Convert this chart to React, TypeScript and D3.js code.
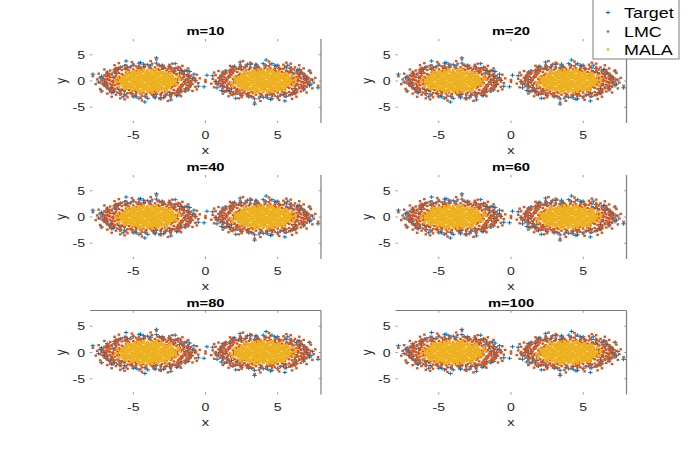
import React from "react";
import * as d3 from "d3";

// ---------- data ----------
const panelTitles = ["m=10", "m=20", "m=40", "m=60", "m=80", "m=100"];
const clusterCenters = [-4, 4];
const clusterSigns = [1, -1];
const xTicks = [-5, 0, 5];
const yTicks = [-5, 0, 5];
const xDomain: [number, number] = [-8, 8];
const yDomain: [number, number] = [-8, 8];
const seriesNames = ["Target", "LMC", "MALA"];
const seriesColors = ["#0072BD", "#D95319", "#EDB120"];

// sample offsets from a cluster centre (x, y)
const targetOffsets: number[][] = [
  [2.6,0.2],[2.8,0.8],[2.5,1.2],[2.5,1.8],[1.7,1.8],[1.6,2.5],[1.1,2.4],[0.8,3.0],[0.2,2.9],[-0.3,3.2],
  [-0.6,2.5],[-1.2,2.7],[-1.5,2.2],[-2.1,2.2],[-2.3,1.7],[-2.8,1.4],[-2.4,0.7],[-2.8,0.3],[-2.4,-0.1],[-2.8,-0.8],
  [-2.5,-1.2],[-2.3,-1.9],[-1.7,-1.8],[-1.6,-2.5],[-1.1,-2.4],[-0.8,-3.0],[-0.2,-2.9],[0.5,-3.0],[0.6,-2.5],[1.2,-2.7],
  [1.5,-2.2],[2.1,-2.2],[2.3,-1.7],[2.6,-1.5],[2.4,-0.7],[2.8,-0.3],
  [3.0,0.0],[3.2,0.6],[2.8,1.1],[2.9,1.8],[2.3,2.0],[2.1,2.6],[1.5,2.8],[1.0,3.0],[0.6,3.4],[0.0,3.1],
  [-0.6,3.4],[-1.0,3.0],[-1.6,2.9],[-2.0,2.5],[-2.3,2.1],[-2.8,1.7],[-2.8,1.1],[-3.3,0.6],[-3.0,0.0],[-3.1,-0.6],
  [-2.9,-1.1],[-2.6,-1.6],[-2.5,-2.2],[-1.9,-2.4],[-1.7,-3.0],[-1.0,-3.0],[-0.6,-3.3],[0.0,-3.3],[0.5,-3.2],[1.1,-3.2],
  [1.5,-2.7],[2.1,-2.7],[2.3,-2.0],[2.8,-1.7],[2.9,-1.1],[3.0,-0.6],
  [-3.1,0.4],[-3.0,-0.5],[-2.2,1.4],[-2.0,-1.6],[-1.4,2.6],[-0.9,-2.8],[-0.3,2.7],[0.4,-2.6],[1.0,2.8],[1.7,-2.4],
  [2.2,1.5],[2.9,-0.9],[3.1,0.5],[2.6,-1.9],[1.9,2.3],[-2.7,-1.5],[-3.2,0.9],[3.2,1.3],[-0.5,3.5],[0.9,-3.2],
  [-1.9,2.6],[2.0,-2.8],[-2.4,-2.2],[2.7,2.0],[-3.4,-0.2],[3.3,0.1],
  [-3.8,1.3],[0.6,4.4],[-0.2,-4.0],[3.5,-1.0],[-1.5,3.8],[1.9,3.3],[1.6,-3.6],[-3.2,-1.9],[4.1,1.1],
];

const lmcOffsets: number[][] = [
  [-3.2,0.1],[-2.9,-0.2],[-2.7,0.2],[-2.4,0.0],[-2.2,-0.1],[-2.0,0.2],
  [2.0,-0.1],[2.3,0.2],[2.5,-0.2],[2.8,0.1],[3.0,0.0],[3.3,-0.1],
  [-3.1,0.6],[-2.8,0.4],[-2.6,0.7],[-2.3,0.5],[-2.1,0.3],[-1.9,0.6],
  [1.9,0.4],[2.2,0.7],[2.4,0.5],[2.7,0.3],[2.9,0.6],[3.2,0.5],
  [-3.1,-0.4],[-2.9,-0.7],[-2.6,-0.5],[-2.4,-0.3],[-2.1,-0.6],[-1.9,-0.5],
  [1.9,-0.6],[2.1,-0.4],[2.4,-0.7],[2.6,-0.5],[2.9,-0.3],[3.1,-0.6],
  [-3.0,1.1],[-2.7,0.9],[-2.5,1.2],[-2.2,1.0],[-2.0,0.8],[-1.7,1.1],
  [1.7,0.9],[2.0,1.2],[2.2,1.0],[2.5,0.8],[2.7,1.1],[3.0,1.0],
  [-3.0,-0.9],[-2.8,-1.2],[-2.5,-1.0],[-2.3,-0.8],[-2.0,-1.1],[-1.7,-1.0],
  [1.7,-1.1],[1.9,-0.9],[2.2,-1.2],[2.4,-1.0],[2.7,-0.8],[2.9,-1.1],
  [-2.8,1.6],[-2.5,1.4],[-2.3,1.7],[-2.0,1.5],[-1.8,1.3],[-1.5,1.6],[-1.3,1.5],
  [1.3,1.4],[1.5,1.7],[1.8,1.5],[2.0,1.3],[2.3,1.6],[2.5,1.5],[2.8,1.4],
  [-2.8,-1.4],[-2.6,-1.7],[-2.3,-1.5],[-2.1,-1.3],[-1.8,-1.6],[-1.5,-1.5],[-1.3,-1.7],
  [1.3,-1.6],[1.6,-1.4],[1.8,-1.7],[2.1,-1.5],[2.3,-1.3],[2.6,-1.6],[2.8,-1.5],
  [-2.6,2.0],[-2.3,2.2],[-2.1,1.9],[-1.8,2.1],[-1.6,2.3],[-1.3,2.0],[-1.0,2.2],[-0.8,1.9],[-0.5,2.1],[-0.3,2.3],
  [0.0,2.0],[0.3,2.2],[0.5,1.9],[0.8,2.1],[1.0,2.3],[1.3,2.0],[1.6,2.2],[1.8,1.9],[2.1,2.1],[2.3,2.3],[2.6,2.0],
  [-2.6,-2.1],[-2.4,-1.9],[-2.1,-2.2],[-1.9,-2.0],[-1.6,-1.9],[-1.4,-2.3],[-1.1,-2.0],[-0.8,-2.1],[-0.6,-1.9],[-0.3,-2.2],
  [0.0,-2.0],[0.2,-2.3],[0.5,-2.1],[0.7,-1.9],[1.0,-2.2],[1.2,-2.0],[1.5,-2.1],[1.8,-2.3],[2.0,-1.9],[2.3,-2.1],[2.6,-2.0],
  [-2.2,2.5],[-1.8,2.7],[-1.5,2.4],[-1.2,2.6],[-0.8,2.8],[-0.5,2.5],[-0.2,2.7],[0.2,2.4],[0.5,2.6],[0.9,2.8],
  [1.2,2.5],[1.5,2.7],[1.8,2.4],[2.2,2.6],
  [-2.2,-2.6],[-1.9,-2.4],[-1.5,-2.7],[-1.1,-2.5],[-0.8,-2.4],[-0.4,-2.8],[-0.1,-2.5],[0.3,-2.6],[0.6,-2.4],[0.9,-2.7],
  [1.3,-2.5],[1.6,-2.8],[1.9,-2.4],[2.2,-2.6],
  [-1.5,3.0],[-1.0,3.2],[-0.6,2.9],[-0.2,3.1],[0.3,3.3],[0.7,3.0],[1.1,2.9],[1.5,3.1],
  [-1.4,-3.1],[-1.0,-2.9],[-0.5,-3.2],[-0.1,-3.0],[0.4,-2.9],[0.8,-3.3],[1.2,-3.0],[1.6,-3.1],
  [-3.5,0.3],[-3.6,-0.6],[-3.4,1.4],[-3.3,-1.5],[-3.0,2.2],[-2.8,-2.4],[-2.3,3.0],[-1.9,-3.3],[-1.1,3.6],[-0.4,-3.7],
  [0.2,3.8],[0.9,-3.5],[1.7,3.3],[2.3,-2.9],[2.8,2.4],[3.1,-1.9],[3.4,1.2],[3.5,-0.4],[3.6,0.5],[3.3,-1.1],
  [-3.8,0.9],[-3.2,-2.0],[-2.0,3.4],[0.6,4.1],[2.4,2.9],[3.4,-1.6],[1.4,-3.8],[-1.6,-3.5],[4.0,-0.2],[-2.5,-3.0],
  [-1.7,0.2],[1.8,-0.3],[-1.5,-1.1],[1.4,1.2],[-0.6,1.8],[0.4,-1.9],[-1.2,1.4],[1.1,-1.5],[-1.8,-0.5],[1.7,0.6],
  [0.9,1.7],[-0.9,-1.8],
  [-3.0,0.3],[-2.8,-0.4],[-2.6,0.1],[-2.5,-0.8],[-2.3,0.8],[-2.1,-0.3],[-2.7,1.3],[-2.4,-1.4],[-2.2,1.8],[-1.9,-1.8],
  [-3.3,-0.3],[-2.9,0.9],[3.0,-0.3],[2.8,0.4],[2.6,-0.1],[2.5,0.8],[2.3,-0.8],[2.1,0.3],[2.7,-1.3],[2.4,1.4],
  [2.2,-1.8],[1.9,1.8],[3.3,0.3],[2.9,-0.9],[-2.0,2.4],[-1.4,2.2],[-0.7,2.4],[0.1,2.6],[0.7,2.3],[1.4,2.3],
  [2.0,2.5],[-1.9,-2.6],[-1.2,-2.3],[-0.5,-2.4],[0.2,-2.1],[0.9,-2.4],[1.6,-2.4],[2.1,-2.3],
];

const malaOffsets: number[][] = [
  [-1.9,0.1],[-1.7,-0.1],[-1.5,0.0],[-1.3,0.2],[-1.1,-0.1],[-0.9,0.1],[-0.7,0.0],[-0.5,-0.2],[-0.3,0.1],[-0.1,0.0],
  [0.1,0.2],[0.3,-0.1],[0.5,0.0],[0.7,0.1],[0.9,-0.2],[1.1,0.0],[1.3,0.1],[1.5,-0.1],[1.7,0.2],[1.9,0.0],
  [-1.8,0.4],[-1.6,0.5],[-1.4,0.3],[-1.2,0.4],[-1.0,0.6],[-0.8,0.4],[-0.6,0.3],[-0.4,0.5],[-0.2,0.4],[0.0,0.3],
  [0.2,0.5],[0.4,0.4],[0.6,0.6],[0.8,0.3],[1.0,0.4],[1.2,0.5],[1.4,0.3],[1.6,0.4],[1.8,0.5],
  [-1.8,-0.5],[-1.6,-0.3],[-1.4,-0.4],[-1.2,-0.6],[-1.0,-0.4],[-0.8,-0.3],[-0.6,-0.5],[-0.4,-0.4],[-0.2,-0.6],[0.0,-0.4],
  [0.2,-0.3],[0.4,-0.5],[0.6,-0.4],[0.8,-0.6],[1.0,-0.3],[1.2,-0.4],[1.4,-0.5],[1.6,-0.3],[1.8,-0.4],
  [-1.7,0.8],[-1.5,0.9],[-1.3,0.7],[-1.1,0.8],[-0.9,1.0],[-0.7,0.8],[-0.5,0.7],[-0.3,0.9],[-0.1,0.8],[0.1,0.7],
  [0.3,0.9],[0.5,0.8],[0.7,1.0],[0.9,0.7],[1.1,0.8],[1.3,0.9],[1.5,0.7],[1.7,0.8],
  [-1.7,-0.9],[-1.5,-0.7],[-1.3,-0.8],[-1.1,-1.0],[-0.9,-0.8],[-0.7,-0.7],[-0.5,-0.9],[-0.3,-0.8],[-0.1,-1.0],[0.1,-0.8],
  [0.3,-0.7],[0.5,-0.9],[0.7,-0.8],[0.9,-1.0],[1.1,-0.7],[1.3,-0.8],[1.5,-0.9],[1.7,-0.7],
  [-1.5,1.2],[-1.3,1.3],[-1.1,1.1],[-0.9,1.2],[-0.7,1.4],[-0.5,1.2],[-0.3,1.1],[-0.1,1.3],[0.1,1.2],[0.3,1.1],
  [0.5,1.3],[0.7,1.2],[0.9,1.4],[1.1,1.1],[1.3,1.2],[1.5,1.3],
  [-1.5,-1.3],[-1.3,-1.1],[-1.1,-1.2],[-0.9,-1.4],[-0.7,-1.2],[-0.5,-1.1],[-0.3,-1.3],[-0.1,-1.2],[0.1,-1.4],[0.3,-1.2],
  [0.5,-1.1],[0.7,-1.3],[0.9,-1.2],[1.1,-1.4],[1.3,-1.1],[1.5,-1.2],
  [-1.1,1.6],[-0.9,1.7],[-0.7,1.5],[-0.5,1.6],[-0.3,1.8],[-0.1,1.6],[0.1,1.5],[0.3,1.7],[0.5,1.6],[0.7,1.5],
  [0.9,1.7],[1.1,1.6],
  [-1.1,-1.7],[-0.9,-1.5],[-0.7,-1.6],[-0.5,-1.8],[-0.3,-1.6],[-0.1,-1.5],[0.1,-1.7],[0.3,-1.6],[0.5,-1.5],[0.7,-1.7],
  [0.9,-1.6],[1.1,-1.5],
  [-0.6,2.0],[-0.3,2.1],[0.0,1.9],[0.3,2.0],[0.6,2.1],
  [-0.6,-2.1],[-0.3,-1.9],[0.0,-2.0],[0.3,-2.1],[0.6,-1.9],
  [-2.1,0.6],[2.0,-0.7],[-2.0,-1.0],[2.1,0.9],[-1.4,1.7],[1.3,-1.8],[1.6,1.5],[-1.6,-1.4],[-2.2,-0.2],[2.2,0.3],
];

const seriesOffsets = [targetOffsets, lmcOffsets, malaOffsets];

// ---------- layout ----------
const WIDTH = 692;
const HEIGHT = 454;
const colLefts = [90, 395.5];
const rowTops = [39, 175, 310.5];
const AX_W = 231;
const AX_H = 84;
const SX = 1.28; // horizontal text stretch of the reference
const FONT = "'Liberation Sans', Arial, Helvetica, sans-serif";
const AXIS_GRAY = "#7d7d7d";
const TEXT_COLOR = "#262626";

function Txt(props: {
  x: number; y: number; children: React.ReactNode; anchor?: string;
  size?: number; weight?: string; rotate?: number; fill?: string;
}) {
  const { x, y, children, anchor = "middle", size = 11, weight = "normal", rotate = 0, fill = TEXT_COLOR } = props;
  return (
    <text
      transform={`translate(${x},${y}) scale(${SX},1) rotate(${rotate})`}
      textAnchor={anchor as any}
      fontSize={size}
      fontWeight={weight}
      fontFamily={FONT}
      fill={fill}
    >
      {children}
    </text>
  );
}

function Panel({ idx }: { idx: number }) {
  const col = idx % 2;
  const row = Math.floor(idx / 2);
  const left = colLefts[col];
  const top = rowTops[row];
  const sx = d3.scaleLinear().domain(xDomain).range([left, left + AX_W]);
  const sy = d3.scaleLinear().domain(yDomain).range([top + AX_H, top]);
  const clipId = `clip${idx}`;
  const tl = 2.3;

  const pts = (s: number) => {
    const out: { x: number; y: number }[] = [];
    clusterCenters.forEach((c, ci) => {
      const sg = clusterSigns[ci];
      seriesOffsets[s].forEach(([dx, dy]) => out.push({ x: sx(c + sg * dx), y: sy(sg * dy) }));
    });
    return out;
  };

  return (
    <g>
      <defs>
        <clipPath id={clipId}>
          <rect x={left} y={top} width={AX_W} height={AX_H} />
        </clipPath>
      </defs>
      <g clipPath={`url(#${clipId})`}>
        {pts(0).map((p, i) => (
          <path key={`t${i}`} d={`M${p.x - 2.3},${p.y}H${p.x + 2.3}M${p.x},${p.y - 1.9}V${p.y + 1.9}`}
            stroke={seriesColors[0]} strokeWidth={1} fill="none" />
        ))}
        {pts(1).map((p, i) => (
          <rect key={`l${i}`} x={p.x - 1.3} y={p.y - 1.15} width={2.6} height={2.3} fill={seriesColors[1]} />
        ))}
        {pts(2).map((p, i) => (
          <rect key={`m${i}`} x={p.x - 1.7} y={p.y - 1.5} width={3.4} height={3} fill={seriesColors[2]} />
        ))}
      </g>
      {/* box lines as seen in the reference */}
      <line x1={left + AX_W} x2={left + AX_W} y1={top} y2={top + AX_H} stroke={AXIS_GRAY} strokeWidth={1.2} />
      {row === 2 && (
        <line x1={left} x2={left + AX_W} y1={top} y2={top} stroke={AXIS_GRAY} strokeWidth={1.2} />
      )}
      {/* ticks */}
      {xTicks.map((t) => (
        <g key={`xt${t}`}>
          <line x1={sx(t)} x2={sx(t)} y1={top + AX_H} y2={top + AX_H - tl} stroke={AXIS_GRAY} strokeWidth={0.8} />
          <line x1={sx(t)} x2={sx(t)} y1={top} y2={top + tl} stroke={AXIS_GRAY} strokeWidth={0.8} />
          <Txt x={sx(t)} y={top + AX_H + 16}>{t < 0 ? `-${Math.abs(t)}` : `${t}`}</Txt>
        </g>
      ))}
      {yTicks.map((t) => (
        <g key={`yt${t}`}>
          <line x1={left} x2={left + tl} y1={sy(t)} y2={sy(t)} stroke={AXIS_GRAY} strokeWidth={0.8} />
          <line x1={left + AX_W} x2={left + AX_W - tl} y1={sy(t)} y2={sy(t)} stroke={AXIS_GRAY} strokeWidth={0.8} />
          <Txt x={left - 5} y={sy(t) + 4} anchor="end">{t < 0 ? `-${Math.abs(t)}` : `${t}`}</Txt>
        </g>
      ))}
      <Txt x={left + AX_W / 2} y={top + AX_H + 31} size={11.5}>x</Txt>
      <Txt x={left - 24} y={top + AX_H / 2} size={11.5} rotate={-90}>y</Txt>
      <Txt x={left + AX_W / 2} y={top - 4} size={11.5} weight="bold" fill="#000">{panelTitles[idx]}</Txt>
    </g>
  );
}

function Legend() {
  const x0 = 593;
  const w = 86;
  const rowsY = [12.5, 31.5, 49.5];
  return (
    <g>
      <rect x={x0} y={-5} width={w} height={64} fill="#fff" stroke={AXIS_GRAY} strokeWidth={1} />
      {seriesNames.map((n, i) => {
        const cx = 608;
        const cy = rowsY[i];
        return (
          <g key={n}>
            {i === 0 ? (
              <path d={`M${cx - 2.2},${cy}H${cx + 2.2}M${cx},${cy - 1.8}V${cy + 1.8}`} stroke={seriesColors[0]} strokeWidth={1} />
            ) : (
              <rect x={cx - 1.2} y={cy - 1.1} width={2.4} height={2.2} fill={seriesColors[i]} />
            )}
            <Txt x={624} y={cy + 5} anchor="start" size={14} fill="#000">{n}</Txt>
          </g>
        );
      })}
    </g>
  );
}

export default function App() {
  return (
    <div style={{ width: WIDTH, height: HEIGHT, overflow: "hidden" }}>
      <style>{"body{margin:0;}"}</style>
      <svg width={WIDTH} height={HEIGHT} style={{ display: "block", background: "#fff" }}>
        <rect x={0} y={0} width={WIDTH} height={HEIGHT} fill="#fff" />
        {panelTitles.map((_, i) => (
          <Panel key={i} idx={i} />
        ))}
        <Legend />
      </svg>
    </div>
  );
}
